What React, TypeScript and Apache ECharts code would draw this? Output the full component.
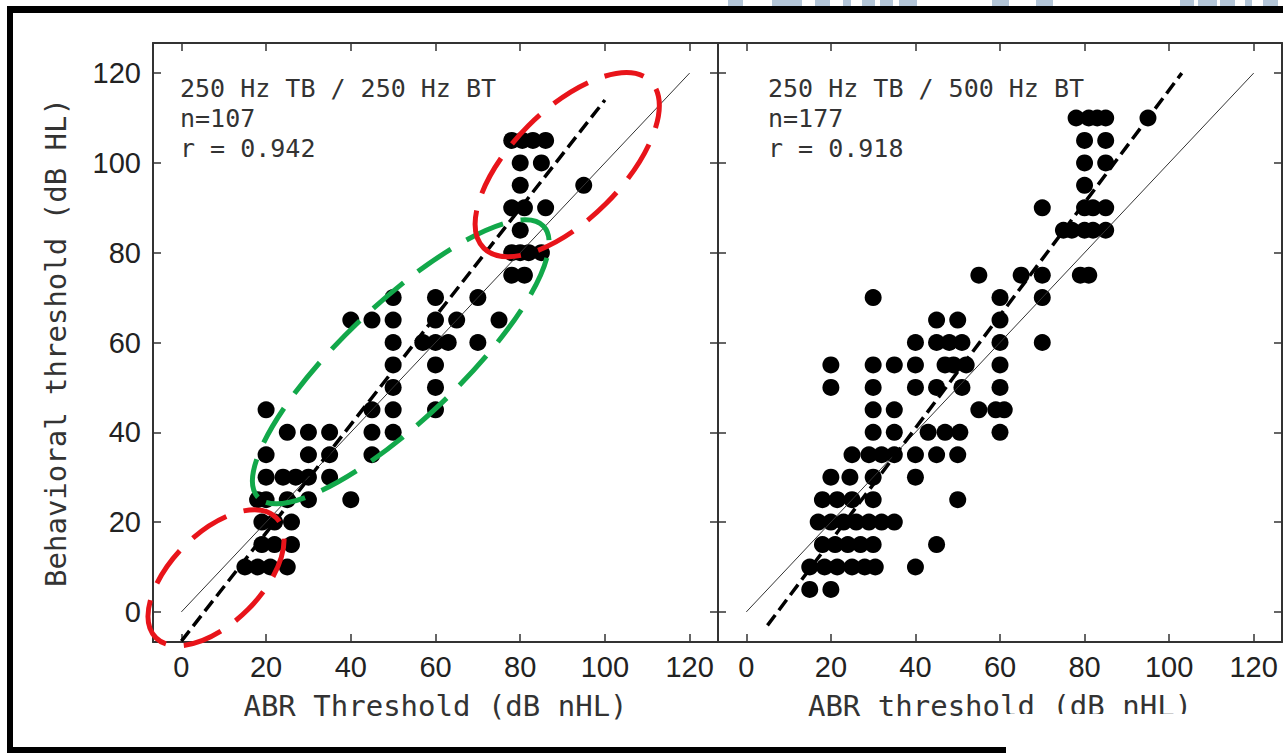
import React, { useEffect, useRef } from "react";
import * as echarts from "echarts";

// ---- values ----
const tickValues = [0, 20, 40, 60, 80, 100, 120];
const axisMin = -6.7;
const axisMax = 126.7;

const leftNote = ["250 Hz TB / 250 Hz BT", "n=107", "r = 0.942"];
const rightNote = ["250 Hz TB / 500 Hz BT", "n=177", "r = 0.918"];
const leftXName = "ABR Threshold (dB nHL)";
const rightXName = "ABR threshold (dB nHL)";
const yName = "Behavioral threshold (dB HL)";

// [ABR threshold, behavioral threshold]
const leftPoints = [
  [78, 105], [80.5, 105], [83, 105], [86, 105],
  [80, 100], [85, 100],
  [80, 95], [95, 95],
  [78, 90], [81, 90], [86, 90],
  [80, 85],
  [78, 80], [80, 80], [82, 80], [85, 80],
  [78, 75], [81, 75],
  [50, 70], [60, 70], [70, 70],
  [40, 65], [45, 65], [50, 65], [60, 65], [65, 65], [75, 65],
  [50, 60], [57, 60], [60, 60], [63, 60], [70, 60],
  [50, 55], [60, 55],
  [50, 50], [60, 50],
  [20, 45], [45, 45], [50, 45], [60, 45],
  [25, 40], [30, 40], [35, 40], [45, 40], [50, 40],
  [20, 35], [30, 35], [35, 35], [45, 35],
  [20, 30], [24, 30], [27, 30], [30, 30], [35, 30],
  [18, 25], [20, 25], [25, 25], [30, 25], [40, 25],
  [19, 20], [22, 20], [26, 20],
  [19, 15], [22, 15], [26, 15],
  [15, 10], [18, 10], [21, 10], [25, 10],
];

const rightPoints = [
  [78, 110], [81, 110], [83, 110], [85, 110], [95, 110],
  [80, 105], [85, 105],
  [80, 100], [85, 100],
  [80, 95],
  [70, 90], [80, 90], [82, 90], [85, 90],
  [75, 85], [77, 85], [80, 85], [82, 85], [85, 85],
  [55, 75], [65, 75], [70, 75], [79, 75], [81, 75],
  [30, 70], [60, 70], [70, 70],
  [45, 65], [50, 65], [60, 65],
  [40, 60], [45, 60], [48, 60], [51, 60], [60, 60], [70, 60],
  [20, 55], [30, 55], [35, 55], [40, 55], [47, 55], [49, 55], [52, 55], [60, 55],
  [20, 50], [30, 50], [40, 50], [45, 50], [51, 50], [60, 50],
  [30, 45], [35, 45], [55, 45], [59, 45], [61, 45],
  [30, 40], [35, 40], [43, 40], [47, 40], [50.5, 40], [60, 40],
  [25, 35], [29, 35], [32, 35], [35, 35], [40, 35], [45, 35], [50, 35],
  [20, 30], [24.5, 30], [30, 30], [40, 30],
  [18, 25], [21.5, 25], [25, 25], [30, 25], [50, 25],
  [17, 20], [20, 20], [23, 20], [26, 20], [29, 20], [32, 20], [35, 20],
  [18, 15], [21, 15], [24, 15], [27, 15], [30, 15], [45, 15],
  [15, 10], [18.5, 10], [21.5, 10], [25, 10], [28, 10], [30.5, 10], [40, 10],
  [15, 5], [20, 5],
];

const leftIdentity = [[0, 0], [120, 120]];
const leftFit = [[0, -6.5], [100, 114]];
const rightIdentity = [[0, 0], [120, 120]];
const rightFit = [[5, -3], [103, 120]];

// [centre x, centre y, half-length px, half-width px, tilt deg]
const redRegions = [
  [91.1, 99.6, 118, 55, 45],
  [8.2, 7.6, 85, 45, 45],
];
const greenRegions = [[51.8, 55.7, 197, 58, 43.5]];

const topSmudges = [
  [728, 15], [772, 30], [815, 15], [843, 8], [862, 13], [880, 13], [899, 18],
  [992, 17], [1036, 17], [1180, 14], [1198, 19], [1220, 15], [1245, 7], [1263, 15],
];

const TICK_FONT = '"Liberation Sans", Arial, sans-serif';
const TEXT_FONT = '"DejaVu Sans Mono", "Liberation Mono", monospace';
const AXIS_COLOR = "#333";

function xAxisDef(grid: number, position: string, withLabels: boolean, name?: string) {
  return {
    type: "value",
    gridIndex: grid,
    position,
    min: axisMin,
    max: axisMax,
    splitLine: { show: false },
    axisLine: { show: true, onZero: false, lineStyle: { color: AXIS_COLOR, width: 2 } },
    axisTick: { show: true, inside: true, length: 8, customValues: tickValues, lineStyle: { color: AXIS_COLOR, width: 1.5 } },
    axisLabel: {
      show: withLabels,
      customValues: tickValues,
      margin: 10,
      color: "#222",
      fontSize: 29,
      fontFamily: TICK_FONT,
    },
    name: name || "",
    nameLocation: "middle",
    nameGap: 49,
    nameTextStyle: { color: "#333", fontSize: 29, fontFamily: TEXT_FONT },
  };
}

function yAxisDef(grid: number, position: string, withLabels: boolean, name?: string) {
  return {
    type: "value",
    gridIndex: grid,
    position,
    min: axisMin,
    max: axisMax,
    splitLine: { show: false },
    axisLine: { show: true, onZero: false, lineStyle: { color: AXIS_COLOR, width: 2 } },
    axisTick: { show: true, inside: true, length: 8, customValues: tickValues, lineStyle: { color: AXIS_COLOR, width: 1.5 } },
    axisLabel: {
      show: withLabels,
      customValues: tickValues,
      margin: 12,
      color: "#222",
      fontSize: 29,
      fontFamily: TICK_FONT,
    },
    name: name || "",
    nameLocation: "middle",
    nameRotate: 90,
    nameGap: 83,
    nameTextStyle: { color: "#333", fontSize: 29, fontFamily: TEXT_FONT },
  };
}

function ellipseSeries(data: number[][], color: string) {
  return {
    type: "custom",
    xAxisIndex: 0,
    yAxisIndex: 0,
    clip: false,
    silent: true,
    z: 10,
    data,
    renderItem: (_params: any, api: any) => {
      const c = api.coord([api.value(0), api.value(1)]);
      return {
        type: "ellipse",
        x: c[0],
        y: c[1],
        rotation: (api.value(4) * Math.PI) / 180,
        shape: { cx: 0, cy: 0, rx: api.value(2), ry: api.value(3) },
        style: { fill: "none", stroke: color, lineWidth: 5, lineDash: [40, 18] },
      };
    },
  };
}

function noteTexts(lines: string[], x: number) {
  return lines.map((t, i) => ({
    type: "text",
    x,
    y: 88 + i * 30,
    z: 20,
    style: {
      text: t,
      fill: "#333",
      fontSize: 25,
      fontFamily: TEXT_FONT,
      verticalAlign: "middle",
      align: "left",
    },
  }));
}

export default function App() {
  const ref = useRef<HTMLDivElement>(null);

  useEffect(() => {
    if (!ref.current) return;
    const chart = echarts.init(ref.current, null, { renderer: "svg" });

    const lineSeries = (data: number[][], xi: number, dashed: boolean) => ({
      type: "line",
      xAxisIndex: xi,
      yAxisIndex: xi,
      data,
      showSymbol: false,
      silent: true,
      z: 5,
      lineStyle: dashed
        ? { color: "#000", width: 3.5, type: [13, 6] }
        : { color: "#333", width: 1 },
    });

    const scatter = (data: number[][], xi: number) => ({
      type: "scatter",
      xAxisIndex: xi,
      yAxisIndex: xi,
      data,
      symbolSize: 17,
      itemStyle: { color: "#000", opacity: 1 },
      z: 3,
    });

    const option: any = {
      animation: false,
      backgroundColor: "#fff",
      grid: [
        { left: 153, top: 43, width: 565, height: 599 },
        { left: 718, top: 43, width: 564, height: 599 },
      ],
      xAxis: [
        xAxisDef(0, "bottom", true, leftXName),
        xAxisDef(0, "top", false),
        xAxisDef(1, "bottom", true, rightXName),
        xAxisDef(1, "top", false),
      ],
      yAxis: [
        yAxisDef(0, "left", true, yName),
        yAxisDef(0, "right", false),
        yAxisDef(1, "left", false),
        yAxisDef(1, "right", false),
      ],
      series: [
        scatter(leftPoints, 0),
        scatter(rightPoints, 2),
        lineSeries(leftIdentity, 0, false),
        lineSeries(leftFit, 0, true),
        lineSeries(rightIdentity, 2, false),
        lineSeries(rightFit, 2, true),
        ellipseSeries(greenRegions, "#12a84a"),
        ellipseSeries(redRegions, "#e8141a"),
      ],
      graphic: [
        ...noteTexts(leftNote, 180),
        ...noteTexts(rightNote, 768),
        ...topSmudges.map(([x, w]) => ({
          type: "rect",
          shape: { x, y: 0, width: w, height: 6 },
          style: { fill: "#b4c6d8" },
          z: 30,
        })),
        // outer frame
        { type: "rect", shape: { x: 7, y: 6, width: 1276, height: 7 }, style: { fill: "#000" }, z: 30 },
        { type: "rect", shape: { x: 7, y: 6, width: 6, height: 747 }, style: { fill: "#000" }, z: 30 },
        { type: "rect", shape: { x: 1006, y: 714, width: 277, height: 39 }, style: { fill: "#fff" }, z: 40 },
        { type: "rect", shape: { x: 7, y: 747, width: 999, height: 6 }, style: { fill: "#000" }, z: 30 },
      ],
    };

    chart.setOption(option);
    return () => chart.dispose();
  }, []);

  return (
    <div
      ref={ref}
      style={{ position: "fixed", left: 0, top: 0, width: 1283, height: 753, background: "#fff" }}
    />
  );
}
